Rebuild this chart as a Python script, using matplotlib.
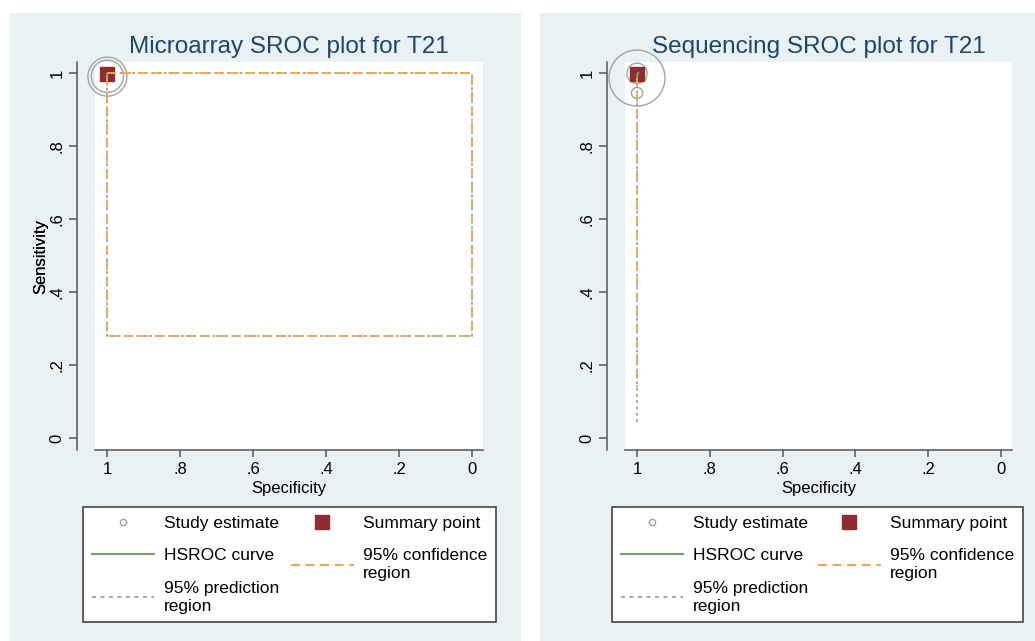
import matplotlib.pyplot as plt
from matplotlib.lines import Line2D
from matplotlib.patches import Rectangle

plt.rcParams['font.family'] = ['Liberation Sans', 'DejaVu Sans']

# ---- data ----
titles = ["Microarray SROC plot for T21", "Sequencing SROC plot for T21"]
tick_vals = [0, 0.2, 0.4, 0.6, 0.8, 1]
tick_text = ["0", ".2", ".4", ".6", ".8", "1"]

# study estimates (specificity, sensitivity, relative weight)
micro_study_spec = [0.999, 0.999]
micro_study_sens = [0.990, 0.991]
micro_study_wt = [0.485, 0.33]
seq_study_spec = [1.0, 1.0, 1.0]
seq_study_sens = [0.986, 0.999, 0.945]
seq_study_wt = [1.0, 0.13, 0.04]

# summary points
micro_summary = (1.0, 0.996)
seq_summary = (1.0, 0.998)

# HSROC curves
micro_hsroc_spec = [1.0, 1.0]
micro_hsroc_sens = [0.998, 0.990]
seq_hsroc_spec = [0.997, 0.999, 1.0]
seq_hsroc_sens = [1.0, 0.995, 0.985]

# 95% confidence regions
micro_conf_spec = [1.0, 0.0, 0.0, 1.0, 1.0]
micro_conf_sens = [1.0, 1.0, 0.28, 0.28, 1.0]
seq_conf_spec = [1.0, 1.0]
seq_conf_sens = [0.985, 0.14]

# 95% prediction regions
micro_pred_spec = [1.0, 0.0, 0.0, 1.0, 1.0]
micro_pred_sens = [1.0, 1.0, 0.28, 0.28, 1.0]
seq_pred_spec = [1.0, 1.0]
seq_pred_sens = [0.985, 0.045]

panels = [
    (micro_study_spec, micro_study_sens, micro_study_wt, micro_summary,
     micro_hsroc_spec, micro_hsroc_sens, micro_conf_spec, micro_conf_sens,
     micro_pred_spec, micro_pred_sens),
    (seq_study_spec, seq_study_sens, seq_study_wt, seq_summary,
     seq_hsroc_spec, seq_hsroc_sens, seq_conf_spec, seq_conf_sens,
     seq_pred_spec, seq_pred_sens),
]

# ---- styles ----
W, H = 1035, 641
bg = "#e9f1f3"
navy = "#1a476f"
red = "#8e2c31"
green = "#7f9c6c"
orange = "#f2a54c"
dotgray = "#8fa5a5"
circ = "#a3a3a3"
spine_col = "#555555"

fig = plt.figure(figsize=(W / 100, H / 100), dpi=100)
fig.patch.set_facecolor("white")

# panel backgrounds (px: x0, x1)
for x0, x1 in [(10, 521), (540, 1035)]:
    fig.patches.append(Rectangle((x0 / W, 0), (x1 - x0) / W, 1 - 13 / H,
                                 transform=fig.transFigure, facecolor=bg,
                                 edgecolor="none", zorder=-5))

ax_px = [(95, 388), (625, 387)]
legend_px = [(83, 496), (612, 1023)]

for k, (sx, sy, sw, summ, hx, hy, cx, cy, px, py) in enumerate(panels):
    left, width = ax_px[k]
    ax = fig.add_axes([left / W, 1 - 450 / H, width / W, 388 / H])
    ax.set_zorder(1)
    ax.set_facecolor("white")
    ax.set_xlim(1.033, -0.030)
    ax.set_ylim(-0.033, 1.030)

    for s in ["top", "right"]:
        ax.spines[s].set_visible(False)
    ax.spines["left"].set_position(("outward", 13))
    for s in ["left", "bottom"]:
        ax.spines[s].set_color(spine_col)
        ax.spines[s].set_linewidth(1.1)

    ax.set_xticks(tick_vals)
    ax.set_xticklabels(tick_text, fontsize=12)
    ax.set_yticks(tick_vals)
    ax.set_yticklabels(tick_text, fontsize=12, rotation=90, va="center")
    ax.tick_params(axis="x", length=5, width=1.1, color=spine_col, pad=3.5)
    ax.tick_params(axis="y", length=6, width=1.1, color=spine_col, pad=3)

    ax.set_xlabel("Specificity", fontsize=12)
    ax.xaxis.label.set_va("center")
    ax.xaxis.set_label_coords(0.5, (450 - 489) / 388)
    ax.set_ylabel("Sensitivity", fontsize=12)
    ax.yaxis.label.set_va("center")
    ax.yaxis.set_label_coords((41 - left) / width, 0.5)

    ax.set_title(titles[k], fontsize=17.5, color=navy, y=1 + 15 / 388,
                 va="center", pad=0)

    # study estimates, sized by weight, and summary point
    ax.scatter(sx, sy, s=[w * 1625 for w in sw], facecolors="none",
               edgecolors=circ, linewidths=1.0, zorder=3, clip_on=False)
    ax.plot([summ[0]], [summ[1]], marker="s", ms=9.5, color=red,
            linestyle="none", zorder=3.5, clip_on=False)

    # regions and curve drawn on top, as in the original
    ax.plot(hx, hy, color=green, lw=1.5, zorder=4, clip_on=False)
    ax.plot(px, py, color=dotgray, lw=1.3, dashes=(1.5, 2.0), zorder=5,
            clip_on=False)
    ax.plot(cx, cy, color=orange, lw=1.3, dashes=(5, 3.5), zorder=6,
            clip_on=False)

    handles = [
        Line2D([], [], marker="o", ms=4.5, mfc="none", mec=circ, mew=1.0,
               linestyle="none"),
        Line2D([], [], color=green, lw=1.5),
        Line2D([], [], color=dotgray, lw=1.3, dashes=(2.2, 2.5)),
        Line2D([], [], marker="s", ms=10.5, color=red, linestyle="none"),
        Line2D([], [], color=orange, lw=1.5, dashes=(4.2, 2.8)),
    ]
    labels = ["Study estimate", "HSROC curve", "95% prediction\nregion",
              "Summary point", "95% confidence\nregion"]
    lx0, lx1 = legend_px[k]
    leg = fig.legend(handles, labels, ncol=2, loc="upper left",
                     bbox_to_anchor=(lx0 / W, 1 - 624 / H, (lx1 - lx0) / W,
                                     117 / H),
                     bbox_transform=fig.transFigure, mode="expand",
                     fontsize=12.5, frameon=True, fancybox=False,
                     edgecolor="#444444", framealpha=1, borderpad=0.5,
                     labelspacing=1.0, handlelength=3.6, handletextpad=0.55,
                     columnspacing=1.2, borderaxespad=0)
    leg.get_frame().set_linewidth(1.2)
    for t in leg.get_texts():
        t.set_linespacing(1.25)

fig.savefig("out.png", dpi=100)
